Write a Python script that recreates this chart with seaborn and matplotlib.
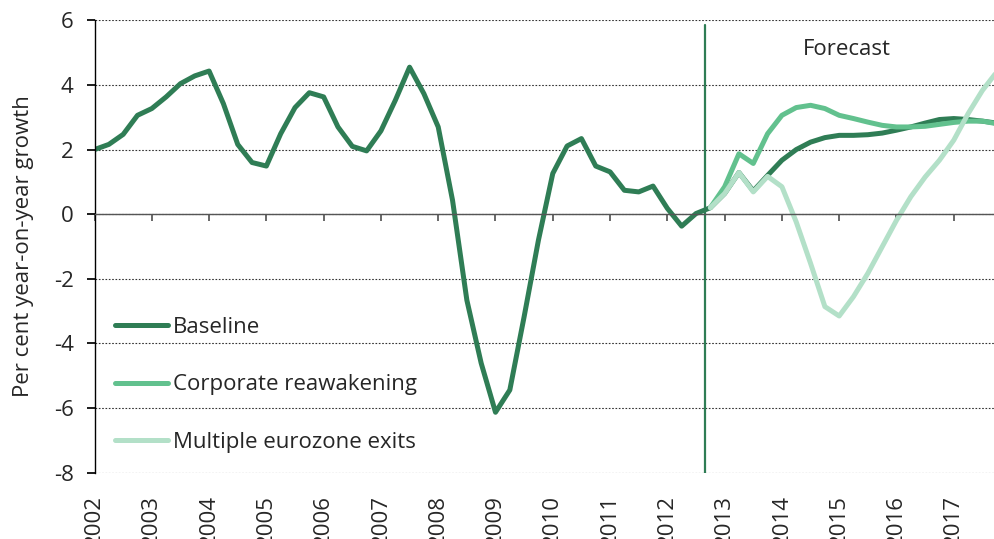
import pandas as pd
import matplotlib.pyplot as plt
import seaborn as sns

sns.set_theme(style='white')
plt.rcParams['font.family'] = ['Open Sans', 'DejaVu Sans']
plt.rcParams['axes.unicode_minus'] = False

# quarterly data, year-on-year growth (%)
years = list(range(2002, 2018))
quarters = [0.0, 0.25, 0.5, 0.75]

# actual history 2002Q1 .. 2012Q4
history = [2.0, 2.16, 2.47, 3.06,
           3.27, 3.63, 4.04, 4.28,
           4.43, 3.42, 2.16, 1.60,
           1.49, 2.49, 3.30, 3.76,
           3.63, 2.70, 2.10, 1.96,
           2.58, 3.52, 4.55, 3.73,
           2.70, 0.43, -2.66, -4.61,
           -6.13, -5.44, -3.17, -0.80,
           1.26, 2.11, 2.34, 1.49,
           1.31, 0.74, 0.69, 0.87,
           0.18, -0.37, 0.02, 0.20]

# forecasts 2013Q1 .. 2017Q4
baseline_fc = [0.64, 1.29, 0.72, 1.20, 1.67, 2.0, 2.23, 2.37,
               2.44, 2.44, 2.46, 2.51, 2.60, 2.70, 2.82, 2.93,
               2.96, 2.93, 2.88, 2.82]
corporate_fc = [0.85, 1.87, 1.57, 2.49, 3.06, 3.30, 3.37, 3.27,
                3.06, 2.96, 2.85, 2.75, 2.70, 2.70, 2.72, 2.78,
                2.84, 2.88, 2.88, 2.80]
exits_fc = [0.64, 1.29, 0.69, 1.17, 0.85, -0.24, -1.52, -2.86,
            -3.15, -2.55, -1.83, -1.01, -0.19, 0.54, 1.15, 1.67,
            2.29, 3.11, 3.83, 4.40]

series_names = ['Baseline', 'Corporate reawakening', 'Multiple eurozone exits']
colors = ['#2F7D55', '#62C18E', '#B3E0C8']
forecast_start = 2012.65

dates = [y + q for y in years for q in quarters]
hist_dates = dates[:len(history)]
fc_dates = dates[len(history) - 1:]
last = history[-1]

rows = []
for d, v in zip(hist_dates, history):
    rows.append((d, v, series_names[0]))
for d, v in zip(fc_dates, [last] + baseline_fc):
    rows.append((d, v, series_names[0]))
for name, vals in zip(series_names[1:], [corporate_fc, exits_fc]):
    for d, v in zip(fc_dates, [last] + vals):
        rows.append((d, v, name))
df = pd.DataFrame(rows, columns=['date', 'growth', 'series'])

fig = plt.figure(figsize=(9.95, 5.39), dpi=100)
ax = fig.add_axes([0.095, 0.1224, 0.905, 0.8405])

sns.lineplot(data=df, x='date', y='growth', hue='series', hue_order=series_names,
             palette=colors, linewidth=3.6, ax=ax, sort=True, estimator=None)

ax.set_xlim(2002, 2017.72)
ax.set_ylim(-8.01, 6.01)
ax.set_yticks(range(-8, 7, 2))
ax.set_xlabel('')
ax.set_ylabel('Per cent year-on-year growth', fontsize=16, labelpad=14)

# dotted gridlines
ax.yaxis.grid(True, linestyle=(0, (1.5, 1.5)), color='#333333', linewidth=0.8)
ax.set_axisbelow(True)

for s in ['top', 'right']:
    ax.spines[s].set_visible(False)
ax.spines['left'].set_color('black')
ax.spines['left'].set_linewidth(1.0)
ax.spines['bottom'].set_position(('data', 0))
ax.spines['bottom'].set_color('#555555')
ax.spines['bottom'].set_linewidth(1.0)

ax.set_xticks(years)
ax.tick_params(axis='x', direction='out', length=5, color='#555555', labelbottom=False, bottom=True)
ax.tick_params(axis='y', left=True, length=6, color='black', labelsize=16, pad=9)

# year labels below the plot
sec = ax.secondary_xaxis('bottom')
sec.set_xticks(years)
sec.set_xticklabels([str(y) for y in years], rotation=90, fontsize=16)
sec.tick_params(length=0, pad=16)
sec.spines['bottom'].set_visible(False)

# forecast marker
ax.axvline(forecast_start, ymin=0, ymax=0.989, color='#2F7D55', linewidth=1.6)
ax.text(2015.13, 5.1, 'Forecast', fontsize=16, ha='center', va='center')

ax.legend(loc='lower left', bbox_to_anchor=(0.001, 0.0), frameon=False, fontsize=16,
          handlelength=2.35, handletextpad=0.25, labelspacing=1.65)

fig.savefig('out.png', dpi=100)
